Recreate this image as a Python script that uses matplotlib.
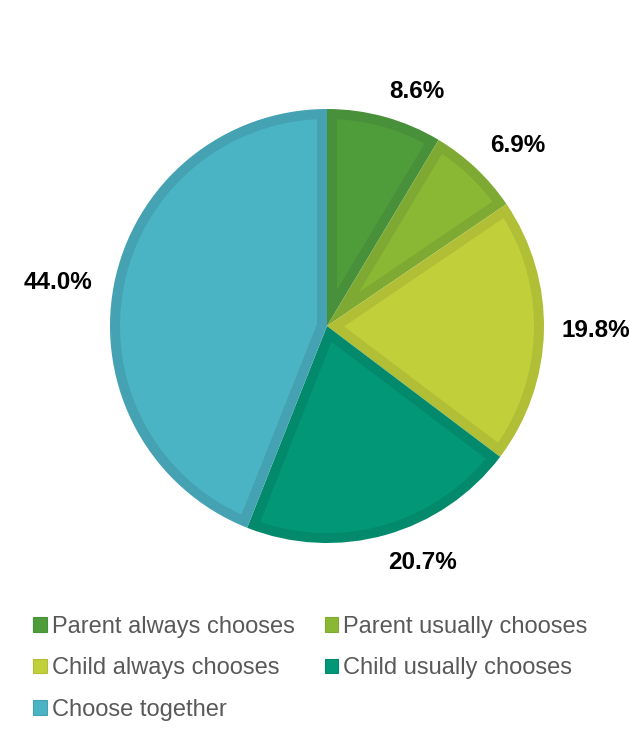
import numpy as np
import matplotlib.pyplot as plt
from matplotlib.patches import Patch, Polygon

categories = ['Parent always chooses', 'Parent usually chooses', 'Child always chooses',
              'Child usually chooses', 'Choose together']
values = [8.6, 6.9, 19.8, 20.7, 44.0]
fill_colors = ['#4f9c3b', '#8ab834', '#c1cf3b', '#029777', '#4ab3c4']
edge_colors = ['#48903a', '#7ea932', '#b1bf36', '#038a6c', '#45a2b3']
# label offsets from the wedge rim, pixels
label_offsets = [(32, 25), (42, 23), (52, 1), (37, -28), (-56, 3)]

W, H = 629, 731
fig = plt.figure(figsize=(W / 100, H / 100), dpi=100)

cx, cy, R = 327, 326, 217
ax = fig.add_axes([(cx - R) / W, (H - cy - R) / H, 2 * R / W, 2 * R / H])

# outer slices in the darker border colour
wedges, _ = ax.pie(values, colors=edge_colors, startangle=90, counterclock=False,
                   wedgeprops=dict(linewidth=0))
ax.set_xlim(-1, 1)
ax.set_ylim(-1, 1)
ax.set_aspect('equal')

# inset slices in the fill colour (border ~10 px inside)
d = 10 / R
for w, fc in zip(wedges, fill_colors):
    t1, t2 = np.deg2rad(w.theta1), np.deg2rad(w.theta2)
    half = (t2 - t1) / 2
    apex = d / np.sin(half)
    mid = (t1 + t2) / 2
    r = 1 - d
    da = np.arcsin(d / r)
    t = np.linspace(t1 + da, t2 - da, 120)
    xs = np.r_[apex * np.cos(mid), r * np.cos(t)]
    ys = np.r_[apex * np.sin(mid), r * np.sin(t)]
    ax.add_patch(Polygon(np.c_[xs, ys], closed=True, facecolor=fc, edgecolor='none'))

for w, v, off in zip(wedges, values, label_offsets):
    ang = np.deg2rad((w.theta1 + w.theta2) / 2)
    ax.annotate(f'{v:.1f}%', xy=(np.cos(ang), np.sin(ang)), xytext=off,
                textcoords='offset pixels', ha='center', va='center',
                fontsize=17.5, fontweight='bold', family=['Liberation Sans', 'DejaVu Sans'],
                color='black')

handles = [Patch(facecolor=c, edgecolor=e, linewidth=0.8) for c, e in zip(fill_colors, edge_colors)]
order = [0, 2, 4, 1, 3]  # fill rows left-to-right like the original
leg = fig.legend([handles[i] for i in order], [categories[i] for i in order], ncol=2,
                 loc='upper left', bbox_to_anchor=(33 / W, 1 - 616 / H), frameon=False,
                 prop={'family': ['Liberation Sans', 'DejaVu Sans'], 'size': 17},
                 handlelength=0.59, handleheight=0.59, handletextpad=0.2,
                 labelspacing=0.82, columnspacing=1.27, borderaxespad=0, borderpad=0)
for t in leg.get_texts():
    t.set_color('#595959')

fig.savefig('out.png', dpi=100)
